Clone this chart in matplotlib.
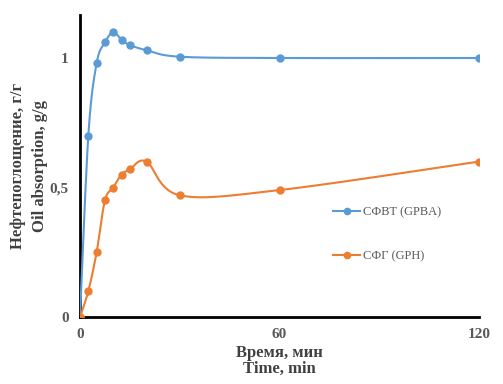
import numpy as np
import matplotlib.pyplot as plt

# время, мин
t = [0, 2.5, 5, 7.5, 10, 12.5, 15, 20, 30, 60, 120]
# нефтепоглощение, г/г
gpba = [0, 0.70, 0.98, 1.06, 1.10, 1.07, 1.05, 1.03, 1.005, 1.0, 1.0]
gph = [0, 0.10, 0.25, 0.45, 0.50, 0.55, 0.57, 0.60, 0.47, 0.49, 0.60]

x_ticks = [0, 60, 120]
y_ticks = [0, 0.5, 1]
y_ticklabels = ["0", "0,5", "1"]

blue = "#5B9BD5"
orange = "#ED7D31"
grey = "#595959"


def smooth(x, y, sx=399 / 120, sy=259, n=30):
    # сглаживание как в Excel (Catmull-Rom в экранных координатах)
    p = np.column_stack([np.asarray(x) * sx, np.asarray(y) * sy])
    p = np.vstack([p[0], p, p[-1]])
    out = []
    for i in range(1, len(p) - 2):
        p0, p1, p2, p3 = p[i - 1], p[i], p[i + 1], p[i + 2]
        c1 = p1 + (p2 - p0) / 6
        c2 = p2 - (p3 - p1) / 6
        s = np.linspace(0, 1, n)[:, None]
        out.append((1 - s) ** 3 * p1 + 3 * (1 - s) ** 2 * s * c1
                   + 3 * (1 - s) * s ** 2 * c2 + s ** 3 * p2)
    out = np.vstack(out)
    return out[:, 0] / sx, out[:, 1] / sy


plt.rcParams['font.family'] = ['Liberation Serif', 'DejaVu Serif']

fig = plt.figure(figsize=(5.03, 3.84), dpi=100)
ax = fig.add_axes([80 / 503, 1 - 317 / 384, 399 / 503, 302 / 384])

for y, c, lab in [(gpba, blue, "СФВТ (GPBA)"), (gph, orange, "СФГ (GPH)")]:
    xs, ys = smooth(t, y)
    ax.plot(xs, ys, color=c, lw=1.5, zorder=3)
    ax.plot(t, y, 'o', color=c, ms=5, zorder=4)
    ax.plot([], [], '-o', color=c, lw=1.5, ms=4.5, label=lab)

ax.set_xlim(0, 120)
ax.set_ylim(0, 302 / 259)
ax.set_xticks(x_ticks)
ax.set_yticks(y_ticks)
ax.set_yticklabels(y_ticklabels)
ax.tick_params(length=0, labelsize=11, labelcolor=grey, pad=8)
for lbl in ax.get_xticklabels() + ax.get_yticklabels():
    lbl.set_fontweight('bold')

for s in ['top', 'right']:
    ax.spines[s].set_visible(False)
for s in ['left', 'bottom']:
    ax.spines[s].set_linewidth(2)
    ax.spines[s].set_color('black')

ax.set_xlabel("Время, мин\nTime, min", fontsize=12, fontweight='bold',
              color='#404040', labelpad=3, linespacing=1.0)
ax.set_ylabel("Нефтепоглощение, г/г\nOil absorption, g/g", fontsize=12,
              fontweight='bold', color='#404040', labelpad=1, linespacing=1.5)

leg = ax.legend(loc='upper left', bbox_to_anchor=(0.634, 0.365), frameon=False,
                fontsize=9, labelspacing=2.5, handlelength=2.2,
                handletextpad=0.2, borderpad=0, borderaxespad=0)
for txt in leg.get_texts():
    txt.set_color(grey)

fig.savefig("out.png", dpi=100)
